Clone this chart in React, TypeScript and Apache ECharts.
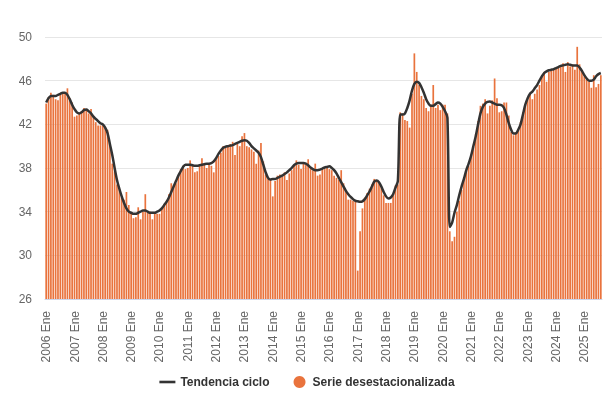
import { useEffect, useRef } from 'react';
import * as echarts from 'echarts';

const monthNames = ['Ene', 'Feb', 'Mar', 'Abr', 'May', 'Jun', 'Jul', 'Ago', 'Sep', 'Oct', 'Nov', 'Dic'];
const firstYear = 2006;
const lastYear = 2025;
const lastYearMonths = 8;

const serieDesestacionalizada: number[] = [
  // 2006
  43.9, 44.5, 44.9, 44.7, 44.3, 44.2, 44.7, 44.8, 44.8, 45.3, 44.4, 44.0,
  // 2007
  42.7, 42.8, 43.0, 43.2, 43.5, 43.4, 43.0, 43.4, 42.8, 42.2, 41.9, 41.9,
  // 2008
  41.9, 41.7, 41.5, 40.1, 38.4, 37.7, 36.5, 36.1, 35.3, 35.1, 35.8, 34.6,
  // 2009
  33.8, 33.4, 33.5, 34.4, 33.3, 34.0, 35.6, 34.0, 34.0, 33.3, 33.8, 33.8,
  // 2010
  33.8, 34.3, 34.7, 35.0, 35.6, 36.6, 36.4, 36.6, 37.3, 37.9, 38.2, 37.9,
  // 2011
  38.0, 38.7, 38.2, 37.6, 37.7, 38.2, 38.9, 38.3, 38.0, 38.3, 38.2, 37.6,
  // 2012
  38.8, 39.1, 39.4, 40.0, 39.9, 40.1, 40.2, 40.4, 39.2, 40.2, 40.0, 40.9,
  // 2013
  41.2, 40.0, 39.9, 39.7, 39.5, 38.4, 39.6, 40.3, 38.6, 37.4, 37.0, 36.9,
  // 2014
  35.4, 36.8, 37.3, 37.4, 37.2, 37.6, 36.9, 37.5, 37.8, 38.2, 38.7, 38.3,
  // 2015
  37.9, 38.4, 38.3, 38.8, 37.9, 37.8, 38.4, 37.3, 37.4, 37.9, 37.9, 38.0,
  // 2016
  37.9, 37.8, 37.3, 37.1, 36.9, 37.8, 36.6, 35.8, 35.1, 35.1, 35.0, 34.9,
  // 2017
  28.6, 32.2, 34.3, 35.3, 35.7, 36.1, 36.5, 37.0, 36.8, 36.6, 36.3, 35.5,
  // 2018
  34.8, 34.8, 34.8, 35.5, 36.4, 36.5, 43.1, 43.0, 42.4, 42.3, 41.7, 44.8,
  // 2019
  48.5, 46.8, 45.6, 44.6, 44.3, 43.5, 43.2, 43.8, 45.6, 43.5, 43.8, 43.3,
  // 2020
  43.8, 43.8, 43.0, 32.2, 31.3, 31.7, 34.0, 35.0, 36.0, 36.9, 37.8, 38.2,
  // 2021
  39.0, 39.9, 41.1, 42.3, 43.7, 43.9, 44.3, 43.0, 43.7, 44.2, 46.2, 44.4,
  // 2022
  43.1, 43.2, 44.0, 44.0, 42.8, 41.3, 41.0, 41.3, 41.4, 42.2, 43.1, 43.8,
  // 2023
  44.3, 44.7, 44.3, 44.8, 45.2, 45.6, 46.5, 46.8, 45.9, 46.8, 46.9, 47.0,
  // 2024
  47.1, 47.2, 47.4, 47.6, 46.8, 47.7, 47.3, 47.5, 47.0, 49.1, 47.5, 46.8,
  // 2025
  46.4, 46.1, 45.9, 45.35, 46.5, 45.4, 45.7, 46.5,
];

const tendenciaCiclo: number[] = [
  // 2006
  44.0, 44.4, 44.6, 44.6, 44.6, 44.7, 44.8, 44.9, 44.9, 44.7, 44.3, 43.8,
  // 2007
  43.4, 43.1, 43.0, 43.1, 43.3, 43.35, 43.2, 43.0, 42.7, 42.5, 42.3, 42.1,
  // 2008
  42.0, 41.7, 41.2, 40.2, 39.2, 38.0, 36.9, 36.1, 35.4, 34.8, 34.3, 34.0,
  // 2009
  33.9, 33.8, 33.8, 33.9, 34.0, 34.1, 34.1, 34.0, 33.9, 33.9, 33.9, 34.0,
  // 2010
  34.1, 34.3, 34.6, 34.9, 35.3, 35.8, 36.3, 36.8, 37.3, 37.7, 38.1, 38.3,
  // 2011
  38.3, 38.3, 38.25, 38.2, 38.2, 38.25, 38.3, 38.35, 38.4, 38.4, 38.45, 38.6,
  // 2012
  38.9, 39.3, 39.6, 39.85, 39.95, 40.0, 40.05, 40.1, 40.2, 40.3, 40.4, 40.5,
  // 2013
  40.55, 40.5, 40.3, 40.0, 39.8, 39.6, 39.4, 39.0, 38.3, 37.6, 37.1, 36.95,
  // 2014
  37.0, 37.0, 37.1, 37.2, 37.3, 37.45, 37.6, 37.8, 38.0, 38.25, 38.4, 38.45,
  // 2015
  38.45, 38.45, 38.4, 38.25, 38.05, 37.9, 37.8, 37.8, 37.85, 37.95, 38.05, 38.1,
  // 2016
  38.15, 38.0, 37.8, 37.5, 37.1, 36.7, 36.3, 35.9, 35.6, 35.35, 35.15, 35.0,
  // 2017
  34.95, 34.9, 34.95, 35.15, 35.5, 35.85, 36.3, 36.75, 36.85, 36.7, 36.3, 35.8,
  // 2018
  35.4, 35.2, 35.3, 35.6, 36.2, 36.8, 42.9, 42.9, 43.0, 43.5, 44.2, 45.1,
  // 2019
  45.7, 45.9, 45.8, 45.4, 44.9, 44.3, 43.9, 43.7, 43.7, 43.85, 44.0, 43.9,
  // 2020
  43.6, 43.2, 42.6, 32.6, 33.0, 33.9, 34.6, 35.5, 36.3, 37.0, 37.8, 38.4,
  // 2021
  39.1, 40.0, 40.9, 42.0, 43.0, 43.6, 43.9, 44.05, 44.1, 44.0, 43.9, 43.8,
  // 2022
  43.8, 43.75, 43.5, 42.9, 42.1, 41.5, 41.15, 41.15, 41.5, 42.0, 42.9, 43.8,
  // 2023
  44.4, 44.8, 45.0, 45.3, 45.6, 46.0, 46.4, 46.7, 46.85, 46.95, 47.0, 47.05,
  // 2024
  47.15, 47.25, 47.35, 47.4, 47.45, 47.5, 47.45, 47.4, 47.4, 47.4, 47.2, 46.9,
  // 2025
  46.5, 46.2, 46.0, 46.0, 46.1, 46.4, 46.6, 46.7,
];

const yMin = 26;
const yMax = 50;
const yInterval = 4;

const categories: string[] = [];
for (let y = firstYear; y <= lastYear; y++) {
  const n = y === lastYear ? lastYearMonths : 12;
  for (let m = 0; m < n; m++) categories.push(`${y} ${monthNames[m]}`);
}

export default function App() {
  const ref = useRef<HTMLDivElement>(null);
  useEffect(() => {
    if (!ref.current) return;
    const chart = echarts.init(ref.current, null, { renderer: 'svg' });
    const isJan = (i: number) => i % 12 === 0;
    chart.setOption({
      animation: false,
      textStyle: { fontFamily: 'Liberation Sans' },
      grid: { left: 45, right: 12, top: 37, bottom: 100 },
      legend: {
        bottom: 6,
        left: 'center',
        itemGap: 24,
        itemWidth: 16,
        itemHeight: 12,
        symbolKeepAspect: true,
        textStyle: { fontWeight: 'bold', fontSize: 12, color: '#333333', fontFamily: 'Liberation Sans' },
        data: [
          { name: 'Tendencia ciclo', icon: 'path://M0,0 L16,0 L16,2.6 L0,2.6 Z', itemStyle: { color: '#333333' } },
          { name: 'Serie desestacionalizada', icon: 'circle' },
        ],
      },
      xAxis: {
        type: 'category',
        data: categories,
        boundaryGap: true,
        axisLine: { lineStyle: { color: '#ccd6eb' } },
        axisTick: {
          alignWithLabel: true,
          interval: (i: number) => isJan(i),
          length: 10,
          lineStyle: { color: '#ccd6eb' },
        },
        axisLabel: {
          interval: (i: number) => isJan(i),
          rotate: 90,
          margin: 12,
          color: '#666666',
          fontSize: 12,
          fontFamily: 'Liberation Sans',
        },
      },
      yAxis: {
        type: 'value',
        min: yMin,
        max: yMax,
        interval: yInterval,
        axisLine: { show: false },
        axisTick: { show: false },
        axisLabel: { color: '#666666', fontSize: 12, margin: 13, fontFamily: 'Liberation Sans' },
        splitLine: { lineStyle: { color: '#e6e6e6' } },
      },
      series: [
        {
          name: 'Serie desestacionalizada',
          type: 'bar',
          data: serieDesestacionalizada,
          itemStyle: { color: '#E9733D' },
          barCategoryGap: '28%',
          z: 1,
        },
        {
          name: 'Tendencia ciclo',
          type: 'line',
          data: tendenciaCiclo,
          smooth: 0.3,
          symbol: 'none',
          showSymbol: false,
          lineStyle: { color: '#333333', width: 2.5 },
          itemStyle: { color: '#333333' },
          z: 3,
        },
      ],
    });
    return () => chart.dispose();
  }, []);
  return <div ref={ref} style={{ position: 'fixed', left: 0, top: 0, width: 614, height: 399 }} />;
}
